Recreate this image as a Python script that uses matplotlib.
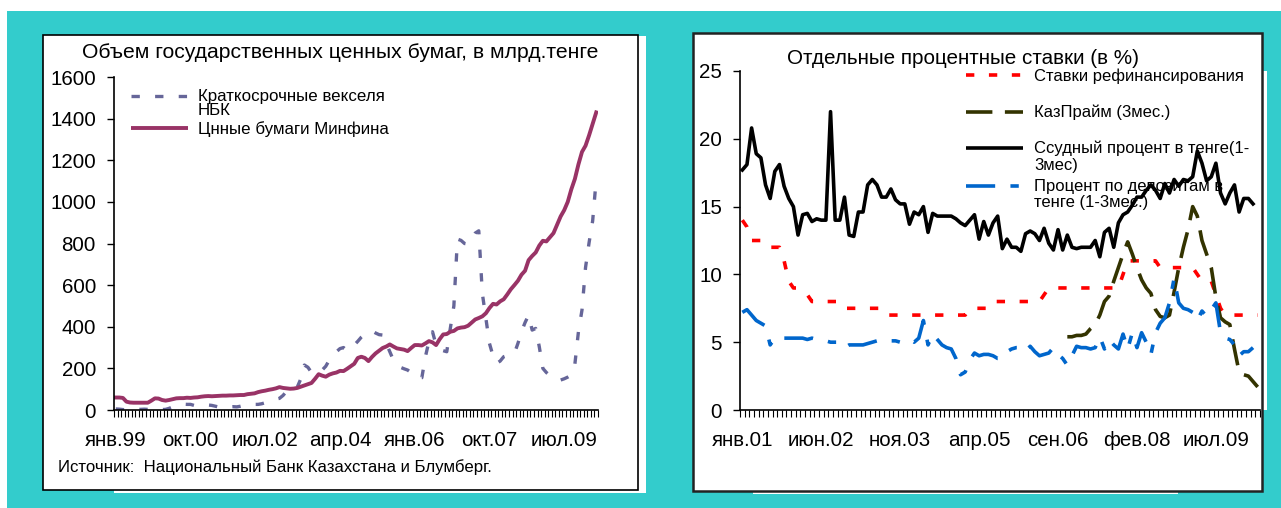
import numpy as np
import matplotlib
matplotlib.use('Agg')
import matplotlib.pyplot as plt
from matplotlib.patches import Rectangle
from matplotlib.lines import Line2D
from matplotlib.ticker import FixedLocator

plt.rcParams['font.family'] = ['Liberation Sans', 'DejaVu Sans']
plt.rcParams['lines.scale_dashes'] = False

W, H = 1281, 508
TEAL = '#33CCCC'

# %% left chart: jan.1999 - apr.2010, monthly, bln tenge
nbk_bills = [5, 4, 2, 1, 1, 2, 3, 3, 4, 3,
             2, 2, 3, 2, 3, 8, 15, 20, 25, 28,
             27, 27, 22, 18, 20, 22, 24, 22, 18, 14,
             12, 14, 15, 16, 15, 18, 22, 25, 28, 27,
             27, 30, 35, 42, 48, 52, 56, 70, 90, 110,
             117, 110, 150, 216, 205, 180, 175, 185, 192, 210,
             240, 265, 280, 295, 300, 285, 300, 312, 330, 350,
             365, 376, 380, 370, 362, 360, 320, 280, 240, 215,
             205, 198, 192, 180, 165, 152, 155, 256, 330, 376,
             312, 290, 285, 280, 392, 500, 821, 815, 800, 797,
             820, 850, 861, 560, 440, 320, 260, 224, 235, 256,
             262, 268, 272, 320, 376, 420, 456, 384, 392, 304,
             200, 180, 165, 152, 145, 144, 150, 158, 168, 220,
             376, 480, 685, 805, 909, 1109]
minfin = [60, 60, 58, 40, 36, 35, 35, 35, 35, 35,
          45, 56, 55, 48, 45, 48, 52, 56, 57, 57,
          59, 58, 60, 61, 64, 66, 67, 66, 67, 68,
          69, 69, 70, 70, 71, 72, 72, 76, 78, 80,
          86, 90, 93, 97, 100, 104, 110, 106, 104, 102,
          103, 106, 112, 118, 124, 130, 150, 172, 165, 160,
          170, 176, 180, 188, 187, 198, 210, 222, 250, 256,
          250, 235, 255, 272, 285, 298, 305, 315, 305, 296,
          293, 290, 283, 298, 312, 312, 310, 320, 331, 325,
          312, 340, 363, 365, 376, 380, 392, 396, 398, 405,
          420, 435, 442, 450, 465, 490, 510, 507, 522, 532,
          555, 580, 600, 621, 650, 669, 720, 740, 757, 790,
          813, 810, 830, 850, 890, 930, 960, 1000, 1060, 1110,
          1180, 1240, 1270, 1320, 1375, 1430]
left_labels = ['янв.99', 'окт.00', 'июл.02', 'апр.04', 'янв.06', 'окт.07', 'июл.09']
left_yticks = [0, 200, 400, 600, 800, 1000, 1200, 1400, 1600]

# %% right chart: jan.2001 - apr.2010, monthly, %
refi = [14.0, 13.5, 12.5, 12.5, 12.5, 12.5, 12.0, 12.0, 12.0, 11.0,
        9.5, 9.0, 9.0, 8.7, 8.5, 8.0, 8.0, 8.0, 8.0, 8.0,
        8.0, 8.0, 7.5, 7.5, 7.5, 7.5, 7.5, 7.5, 7.5, 7.5,
        7.5, 7.0, 7.0, 7.0, 7.0, 7.0, 7.0, 7.0, 7.0, 7.0,
        7.0, 7.0, 7.0, 7.0, 7.0, 7.0, 7.0, 7.0, 7.0, 7.5,
        7.5, 7.5, 7.5, 7.5, 8.0, 8.0, 8.0, 8.0, 8.0, 8.0,
        8.0, 8.0, 8.0, 8.0, 8.0, 8.5, 9.0, 9.0, 9.0, 9.0,
        9.0, 9.0, 9.0, 9.0, 9.0, 9.0, 9.0, 9.0, 9.0, 9.0,
        9.0, 9.0, 10.0, 11.0, 11.0, 11.0, 11.0, 11.0, 11.0, 11.0,
        10.5, 10.5, 10.5, 10.5, 10.5, 10.5, 10.5, 10.5, 10.0, 9.5,
        9.5, 9.5, 8.5, 7.5, 7.0, 7.0, 7.0, 7.0, 7.0, 7.0,
        7.0, 7.0]
kazprime = [np.nan] * 70 + [
        5.4, 5.4, 5.5, 5.5, 5.6, 6.0, 6.3, 7.0, 8.0, 8.4,
        9.5, 10.5, 11.5, 12.4, 11.5, 10.5, 9.6, 9.0, 8.6, 7.4,
        6.9, 6.8, 7.0, 8.7, 10.5, 12.0, 13.3, 15.0, 14.3, 12.5,
        11.5, 10.5, 8.3, 6.8, 6.5, 6.3, 4.5, 2.8, 2.6, 2.5,
        2.1, 1.7]
loan = [17.7, 18.1, 20.8, 18.9, 18.6, 16.6, 15.6, 17.6, 18.1, 16.5,
        15.6, 15.0, 12.9, 14.4, 14.5, 13.9, 14.1, 14.0, 14.0, 22.0,
        14.0, 14.0, 15.7, 12.9, 12.8, 14.6, 14.6, 16.6, 17.0, 16.6,
        15.7, 15.7, 16.3, 15.5, 15.2, 15.2, 13.7, 14.6, 14.4, 15.0,
        13.1, 14.5, 14.3, 14.3, 14.3, 14.3, 14.1, 13.8, 13.6, 14.0,
        14.4, 12.6, 13.9, 12.9, 13.8, 14.3, 11.9, 12.6, 12.0, 12.0,
        11.7, 13.0, 13.2, 13.0, 12.5, 13.4, 12.3, 11.8, 13.3, 11.8,
        12.9, 12.0, 11.9, 12.0, 12.0, 12.0, 12.5, 11.3, 13.1, 13.4,
        12.0, 13.8, 14.4, 14.6, 15.1, 15.7, 15.7, 16.2, 16.6, 16.2,
        15.6, 16.7, 16.0, 17.0, 16.5, 17.0, 16.9, 17.2, 19.1, 18.2,
        16.9, 17.2, 18.2, 16.0, 15.2, 16.0, 16.6, 14.6, 15.6, 15.6,
        15.2, np.nan]
deposit = [7.2, 7.4, 7.0, 6.6, 6.4, 6.2, 4.8, 5.3, 5.4, 5.3,
           5.3, 5.3, 5.3, 5.3, 5.2, 5.3, 5.2, 5.2, 5.1, 5.0,
           5.0, 5.0, 4.6, 4.8, 4.8, 4.8, 4.8, 4.9, 5.0, 5.1,
           5.2, 5.2, 5.1, 5.1, 5.0, 5.0, 5.2, 5.0, 5.3, 6.6,
           4.8, 5.6, 5.2, 4.8, 4.6, 4.5, 3.8, 2.6, 2.8, 3.7,
           4.2, 4.0, 4.1, 4.1, 4.0, 3.8, 3.8, 4.3, 4.5, 4.6,
           4.6, 4.3, 4.7, 4.3, 4.0, 4.1, 4.2, 4.6, 4.1, 3.8,
           3.3, 4.0, 4.7, 4.6, 4.6, 4.5, 4.6, 5.4, 4.5, 5.2,
           4.8, 4.5, 5.6, 4.5, 5.7, 4.6, 5.7, 5.0, 4.1, 5.7,
           6.4, 6.8, 7.9, 9.7, 7.9, 7.5, 7.4, 7.2, 6.6, 7.3,
           6.9, 7.4, 7.9, 5.7, 5.3, 5.2, 4.8, 4.0, 4.3, 4.3,
           4.6, np.nan]
right_labels = ['янв.01', 'июн.02', 'ноя.03', 'апр.05', 'сен.06', 'фев.08', 'июл.09']
right_yticks = [0, 5, 10, 15, 20, 25]

STYLES = {
    'nbk': dict(color='#666699', lw=2.4, ls=(0, (6.0, 11.0))),
    'minfin': dict(color='#993366', lw=2.8, ls='-'),
    'refi': dict(color='#FF0000', lw=2.6, ls=(0, (6.0, 10.5))),
    'kaz': dict(color='#333300', lw=2.6, ls=(0, (19, 9))),
    'loan': dict(color='black', lw=2.6, ls='-'),
    'dep': dict(color='#0066CC', lw=2.6, ls=(0, (21, 11, 6, 11))),
}


def px_axes(fig, x0, y0, x1, y1):
    return fig.add_axes([x0 / W, 1 - y1 / H, (x1 - x0) / W, (y1 - y0) / H])


def px_rect(fig, x0, y0, x1, y1, **kw):
    fig.add_artist(Rectangle((x0 / W, 1 - y1 / H), (x1 - x0) / W, (y1 - y0) / H,
                             transform=fig.transFigure, **kw))


def px_text(fig, x, y, s, **kw):
    fig.text(x / W, 1 - y / H, s, **kw)


def legend_entry(fig, x0, x1, y, style, text, tx, size, spacing):
    fig.add_artist(Line2D([x0 / W, x1 / W], [1 - y / H] * 2, transform=fig.transFigure,
                          color=style['color'], lw=style['lw'], ls=style['ls'],
                          solid_capstyle='butt', dash_capstyle='butt'))
    px_text(fig, tx, y - 7, text, fontsize=size, va='top', ha='left', linespacing=spacing)


def category_axis(ax, n, step, labels, yticks):
    ax.set_facecolor('none')
    ax.set_xlim(-0.5, n - 0.5)
    ax.set_ylim(yticks[0], yticks[-1])
    ax.xaxis.set_major_locator(FixedLocator(np.arange(0, n, step)))
    ax.set_xticklabels(labels)
    ax.xaxis.set_minor_locator(FixedLocator(np.arange(-0.5, n, 1)))
    ax.set_yticks(yticks)
    ax.tick_params(axis='x', which='major', length=0, pad=15, labelsize=14.8)
    ax.tick_params(axis='x', which='minor', length=5, width=0.8, direction='out')
    ax.tick_params(axis='y', length=5, width=1, direction='out', pad=8, labelsize=14.8)
    for s in ('top', 'right'):
        ax.spines[s].set_visible(False)
    for s in ('left', 'bottom'):
        ax.spines[s].set_linewidth(1.2)


fig = plt.figure(figsize=(W / 100, H / 100), dpi=100, facecolor=TEAL)

# background panels
px_rect(fig, 0, 0, W, 11, facecolor='white', edgecolor='none', zorder=-20)
px_rect(fig, 0, 11, 7, H, facecolor='white', edgecolor='none', zorder=-20)
px_rect(fig, 114, 36, 646, 493, facecolor='white', edgecolor='none', zorder=-20)
px_rect(fig, 43, 35, 638, 490, facecolor='white', edgecolor='black', lw=1.2, zorder=-10)
px_rect(fig, 753, 491, 1178, 494, facecolor='white', edgecolor='none', zorder=-20)
px_rect(fig, 1262, 71, 1267, 410, facecolor='white', edgecolor='none', zorder=-20)
px_rect(fig, 693, 33, 1262, 491, facecolor='white', edgecolor='#222222', lw=1.8, zorder=-10)

# %% left: government securities
ax1 = px_axes(fig, 114, 77, 598, 410)
x1 = np.arange(len(minfin))
ax1.plot(x1, nbk_bills, **STYLES['nbk'])
ax1.plot(x1, minfin, solid_joinstyle='round', **STYLES['minfin'])
category_axis(ax1, len(minfin), 21, left_labels, left_yticks)

px_text(fig, 340, 52, 'Объем государственных ценных бумаг, в млрд.тенге',
        fontsize=15.2, ha='center', va='center')
legend_entry(fig, 131, 188, 96, STYLES['nbk'], 'Краткосрочные векселя\nНБК', 198, 12.2, 0.92)
legend_entry(fig, 131, 188, 128, STYLES['minfin'], 'Цнные бумаги Минфина', 198, 12.2, 0.92)
px_text(fig, 58, 467, 'Источник:  Национальный Банк Казахстана и Блумберг.',
        fontsize=12.1, ha='left', va='center')

# %% right: interest rates
ax2 = px_axes(fig, 740, 71, 1260, 410)
x2 = np.arange(len(loan))
ax2.plot(x2, refi, **STYLES['refi'])
ax2.plot(x2, kazprime, **STYLES['kaz'])
ax2.plot(x2, loan, solid_joinstyle='round', **STYLES['loan'])
ax2.plot(x2, deposit, **STYLES['dep'])
category_axis(ax2, len(loan), 17, right_labels, right_yticks)

px_text(fig, 787, 59, 'Отдельные процентные ставки (в %)',
        fontsize=14.9, ha='left', va='center')
legend_entry(fig, 966, 1023, 75, STYLES['refi'], 'Ставки рефинансирования', 1034, 12, 1.12)
legend_entry(fig, 966, 1023, 112, STYLES['kaz'], 'КазПрайм (3мес.)', 1034, 12, 1.12)
legend_entry(fig, 966, 1023, 148, STYLES['loan'], 'Ссудный процент в тенге(1-\n3мес)', 1034, 12, 1.12)
legend_entry(fig, 966, 1023, 186, STYLES['dep'], 'Процент по депозитам в\nтенге (1-3мес.)', 1034, 12, 1.12)

fig.savefig('out.png', dpi=100, facecolor=TEAL)
